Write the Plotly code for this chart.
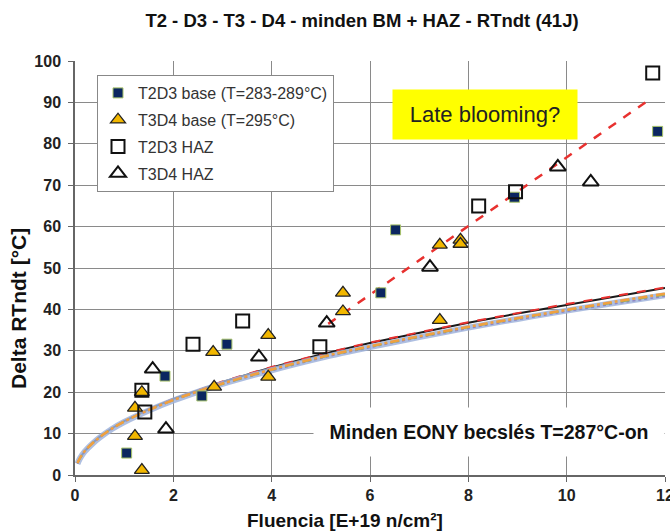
import plotly.graph_objects as go

# ---- measured data ----
t2d3_base_x = [1.05, 1.83, 2.58, 3.09, 6.22, 6.52, 8.94, 11.85]
t2d3_base_y = [5.3, 23.9, 19.1, 31.6, 44.0, 59.2, 67.1, 83.0]

t3d4_base_x = [1.22, 1.22, 1.36, 1.36, 2.81, 2.83, 3.93, 3.93, 5.45, 5.45, 7.42, 7.42, 7.84, 7.84]
t3d4_base_y = [16.2, 9.4, 20.0, 1.2, 29.7, 21.3, 33.8, 23.7, 44.0, 39.5, 55.6, 37.4, 56.8, 55.8]

t2d3_haz_x = [1.36, 1.42, 2.40, 3.41, 4.98, 8.21, 8.96, 11.75]
t2d3_haz_y = [20.5, 15.2, 31.6, 37.2, 31.0, 65.0, 68.4, 97.1]

t3d4_haz_x = [1.58, 1.85, 3.74, 5.12, 7.22, 9.82, 10.49]
t3d4_haz_y = [25.6, 11.1, 28.5, 36.7, 50.2, 74.4, 70.8]

late_x = [5.15, 11.6]
late_y = [36.5, 90.0]

curve_f = [0.05, 0.1, 0.2, 0.35, 0.5, 0.75, 1.0, 1.5, 2.0, 2.5, 3.0, 4.0, 5.0, 6.0, 7.0, 8.0, 9.0, 10.0, 11.0, 12.0]
eony_black = [2.9, 4.1, 5.8, 7.7, 9.2, 11.3, 13.0, 15.9, 18.4, 20.5, 22.5, 26.0, 29.1, 31.9, 34.4, 36.8, 39.0, 41.1, 43.2, 45.2]
eony_red = [2.9, 4.1, 5.8, 7.7, 9.2, 11.3, 13.0, 15.9, 18.4, 20.5, 22.6, 26.1, 29.2, 32.0, 34.5, 36.9, 39.1, 41.3, 43.3, 45.3]
eony_orange = [2.9, 4.1, 5.8, 7.6, 9.1, 11.2, 12.9, 15.7, 18.1, 20.2, 22.1, 25.5, 28.5, 31.1, 33.5, 35.8, 37.9, 39.9, 41.9, 43.8]
eony_green = [2.9, 4.0, 5.7, 7.6, 9.1, 11.2, 12.9, 15.7, 18.1, 20.2, 22.0, 25.4, 28.4, 31.0, 33.4, 35.7, 37.8, 39.8, 41.7, 43.6]
eony_blue = [2.7, 4.0, 5.7, 7.5, 9.0, 11.1, 12.8, 15.6, 18.0, 20.1, 22.0, 25.3, 28.3, 30.9, 33.3, 35.6, 37.7, 39.7, 41.6, 43.4]
eony_purple = [2.7, 3.9, 5.6, 7.5, 9.0, 11.1, 12.8, 15.6, 18.0, 20.0, 21.9, 25.2, 28.2, 30.8, 33.2, 35.4, 37.5, 39.5, 41.4, 43.2]

x_ticks = [0, 2, 4, 6, 8, 10, 12]
y_ticks = [0, 10, 20, 30, 40, 50, 60, 70, 80, 90, 100]

FONT = "Liberation Sans, Arial, sans-serif"

fig = go.Figure()

# EONY estimate curves
fig.add_trace(go.Scatter(x=curve_f, y=eony_black, mode="lines", showlegend=False,
                         line=dict(color="#1a1a1a", width=2)))
fig.add_trace(go.Scatter(x=curve_f, y=eony_red, mode="lines", showlegend=False,
                         line=dict(color="#e8312f", width=2, dash="dash")))
fig.add_trace(go.Scatter(x=curve_f, y=eony_blue, mode="lines", showlegend=False,
                         line=dict(color="rgba(160,180,220,0.85)", width=6, shape="spline")))
fig.add_trace(go.Scatter(x=curve_f, y=eony_purple, mode="lines", showlegend=False,
                         line=dict(color="#8f86c4", width=1.5, dash="dot", shape="spline")))
fig.add_trace(go.Scatter(x=curve_f, y=eony_green, mode="lines", showlegend=False,
                         line=dict(color="#93b35a", width=2, dash="dash", shape="spline")))
fig.add_trace(go.Scatter(x=curve_f, y=eony_orange, mode="lines", showlegend=False,
                         line=dict(color="#f0a040", width=2.5, dash="dashdot", shape="spline")))

# late blooming trend
fig.add_trace(go.Scatter(x=late_x, y=late_y, mode="lines", showlegend=False,
                         line=dict(color="#e8312f", width=2.5, dash="dash")))

# measured points
fig.add_trace(go.Scatter(x=t2d3_base_x, y=t2d3_base_y, mode="markers",
                         name="T2D3 base (T=283-289°C)", legendgroup="a",
                         marker=dict(symbol="square", size=10, color="#0b2660",
                                     line=dict(color="#a9c46a", width=1))))
fig.add_trace(go.Scatter(x=t3d4_base_x, y=t3d4_base_y, mode="markers",
                         name="T3D4 base (T=295°C)", legendgroup="b",
                         marker=dict(symbol="triangle-up", size=13, color="#f2b700",
                                     line=dict(color="#222222", width=1.3))))
fig.add_trace(go.Scatter(x=t2d3_haz_x, y=t2d3_haz_y, mode="markers",
                         name="T2D3 HAZ", legendgroup="c",
                         marker=dict(symbol="square-open", size=13, color="#111111",
                                     line=dict(color="#111111", width=2))))
fig.add_trace(go.Scatter(x=t3d4_haz_x, y=t3d4_haz_y, mode="markers",
                         name="T3D4 HAZ", legendgroup="d",
                         marker=dict(symbol="triangle-up-open", size=14, color="#111111",
                                     line=dict(color="#111111", width=2))))

fig.update_layout(
    width=670, height=531,
    margin=dict(l=75, r=5, t=61, b=56, autoexpand=False),
    paper_bgcolor="white", plot_bgcolor="white",
    font=dict(family=FONT, color="#222222"),
    title=dict(text="T2 - D3 - T3 - D4 - minden BM + HAZ - RTndt (41J)",
               x=362 / 670, xanchor="center", xref="container",
               y=1 - 21 / 531, yanchor="middle", yref="container",
               font=dict(size=18.5, weight="bold", color="#111111")),
    xaxis=dict(range=[0, 12], tickvals=x_ticks, showgrid=True, gridcolor="#8a8a8a", gridwidth=1.2,
               zeroline=False, showline=True, linecolor="#666666", linewidth=1.5, automargin=False,
               ticks="outside", ticklen=5, tickcolor="#666666", ticklabeloverflow="allow",
               tickfont=dict(size=16, weight="bold", color="#222222")),
    yaxis=dict(range=[0, 100], tickvals=y_ticks, showgrid=True, gridcolor="#8a8a8a", gridwidth=1.2,
               zeroline=False, showline=True, linecolor="#666666", linewidth=1.5, automargin=False,
               ticks="outside", ticklen=5, tickcolor="#666666", ticklabelstandoff=4,
               tickfont=dict(size=16, weight="bold", color="#222222")),
    legend=dict(x=22 / 590, y=(475 - 75) / 414, xanchor="left", yanchor="top",
                bgcolor="white", bordercolor="#888888", borderwidth=1,
                traceorder="grouped", tracegroupgap=3,
                font=dict(size=16, color="#333333"), itemwidth=30),
    annotations=[
        dict(text="Fluencia [E+19 n/cm²]", xref="paper", yref="paper",
             x=(345 - 75) / 590, y=-(520 - 475) / 414, xanchor="center", yanchor="middle",
             showarrow=False, font=dict(size=19, weight="bold", color="#111111")),
        dict(text="Delta RTndt [°C]", xref="paper", yref="paper", textangle=-90,
             x=-(75 - 18) / 590, y=(475 - 309) / 414, xanchor="center", yanchor="middle",
             showarrow=False, font=dict(size=21, weight="bold", color="#111111")),
        dict(text="Late blooming?", xref="x", yref="y", x=8.34, y=87.0,
             xanchor="center", yanchor="middle", showarrow=False,
             bgcolor="#ffff00", width=180, height=45, borderpad=2,
             font=dict(size=22, color="#222222")),
        dict(text="Minden EONY becslés T=287°C-on", xref="x", yref="y", x=8.42, y=10.4,
             xanchor="center", yanchor="middle", showarrow=False,
             bgcolor="white", width=348, height=46, borderpad=1,
             font=dict(size=19.5, weight="bold", color="#111111")),
    ],
)

fig.write_html("out.html")
